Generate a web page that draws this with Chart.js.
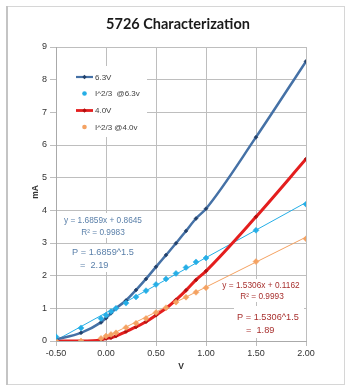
<!DOCTYPE html>
<html lang="en">
<head>
    <meta charset="UTF-8">
    <title>5726 Characterization</title>
    <script src="https://cdn.jsdelivr.net/npm/chart.js"></script>
    <style>
        html, body { margin: 0; padding: 0; background: #fff; }
        #wrap { position: relative; width: 348px; height: 387px; }
    </style>
</head>
<body>
    <div id="wrap">
        <canvas id="tubeChart" width="348" height="387"></canvas>
    </div>

    <script>
        // grid voltage (V) for every measured point
        const gridVolts = [-0.5, -0.25, -0.05, 0, 0.05, 0.1, 0.2, 0.3, 0.4, 0.5, 0.6, 0.7, 0.8, 0.9, 1.0, 1.5, 2.0];

        // plate current (mA)
        const current63 = [0.05, 0.25, 0.57, 0.70, 0.85, 1.00, 1.24, 1.56, 1.90, 2.27, 2.63, 2.99, 3.37, 3.75, 4.05, 6.24, 8.56];
        const power63   = [0.13, 0.40, 0.69, 0.79, 0.90, 1.00, 1.16, 1.35, 1.54, 1.73, 1.90, 2.07, 2.25, 2.42, 2.54, 3.39, 4.19];
        const current40 = [0.00, 0.00, 0.03, 0.08, 0.10, 0.15, 0.29, 0.43, 0.59, 0.79, 1.00, 1.26, 1.55, 1.87, 2.14, 3.80, 5.57];
        const power40   = [0.00, 0.00, 0.08, 0.15, 0.20, 0.25, 0.41, 0.54, 0.69, 0.87, 1.02, 1.19, 1.34, 1.49, 1.63, 2.43, 3.13];

        // linear trendline end points
        const trend63X = [-0.5, 2.0];
        const trend63Y = [0.02, 4.24];
        const trend40X = [-0.08, 2.0];
        const trend40Y = [0.0, 3.18];

        const seriesNames = ["6.3V", "I^2/3  @6.3v", "4.0V", "I^2/3 @4.0v"];
        const seriesColors = ["#4571A6", "#25AEE6", "#E41E1E", "#F4A262"];

        const yTicks = [0, 1, 2, 3, 4, 5, 6, 7, 8, 9];

        const toPoints = (xs, ys) => xs.map((x, i) => ({ x: x, y: ys[i] }));

        const FONT = "'Liberation Sans', Arial, sans-serif";

        // title, axis titles, legend, trendline labels
        const decorPlugin = {
            id: "decor",
            beforeDraw(chart) {
                const c = chart.ctx;
                c.save();
                c.fillStyle = "#fff";
                c.fillRect(0, 0, chart.width, chart.height);
                c.strokeStyle = "#d6d6d6";
                c.lineWidth = 1;
                c.strokeRect(7.5, 6.5, 337, 378);
                c.fillStyle = "#c4c4c4";
                c.fillRect(6, 6, 2, 379);
                c.restore();
            },
            beforeDatasetsDraw(chart) {
                const c = chart.ctx;
                c.save();
                c.fillStyle = "#fff";
                // legend box
                c.fillRect(57, 66, 90, 71);
                // 6.3v fit labels
                c.fillRect(62, 213, 88, 25);
                c.fillRect(62, 244, 86, 28);
                // 4.0v fit labels
                c.fillRect(220, 279, 82, 23);
                c.fillRect(234, 306, 70, 32);
                c.restore();
            },
            afterDatasetsDraw(chart) {
                const c = chart.ctx;
                c.save();

                // title
                c.fillStyle = "#1a1a1a";
                c.font = "bold 14.5px Lato, 'Open Sans', sans-serif";
                c.textAlign = "center";
                c.textBaseline = "middle";
                c.fillText("5726 Characterization", 178, 24);

                // axis titles
                c.font = "bold 8.5px " + FONT;
                c.fillStyle = "#333";
                c.fillText("V", 181, 367);
                c.save();
                c.translate(36, 192);
                c.rotate(-Math.PI / 2);
                c.fillText("mA", 0, 0);
                c.restore();

                // legend
                const rows = [77, 93.5, 110.5, 127];
                c.font = "8px " + FONT;
                c.textAlign = "left";
                rows.forEach((ry, i) => {
                    const col = seriesColors[i];
                    if (i === 0 || i === 2) {
                        c.strokeStyle = col;
                        c.lineWidth = i === 0 ? 2.2 : 2.8;
                        c.beginPath();
                        c.moveTo(76, ry);
                        c.lineTo(93, ry);
                        c.stroke();
                        c.fillStyle = i === 0 ? "#22406A" : "#B01010";
                        c.beginPath();
                        c.moveTo(84.5, ry - 2.2);
                        c.lineTo(86.7, ry);
                        c.lineTo(84.5, ry + 2.2);
                        c.lineTo(82.3, ry);
                        c.fill();
                    } else {
                        c.fillStyle = col;
                        c.beginPath();
                        c.arc(84.5, ry, 2.3, 0, Math.PI * 2);
                        c.fill();
                    }
                    c.fillStyle = "#404040";
                    c.fillText(seriesNames[i], 95, ry + 0.5);
                });

                // fit annotations
                c.textAlign = "center";
                c.fillStyle = "#5B80AA";
                c.font = "8.3px " + FONT;
                c.fillText("y = 1.6859x + 0.8645", 103, 221);
                c.fillText("R\u00B2 = 0.9983", 103, 233);
                c.font = "9.2px " + FONT;
                c.fillText("P = 1.6859^1.5", 103, 252);
                c.textAlign = "left";
                c.fillText("=  2.19", 80, 265);

                c.textAlign = "center";
                c.fillStyle = "#A8302E";
                c.font = "8.3px " + FONT;
                c.fillText("y = 1.5306x + 0.1162", 261, 286);
                c.fillText("R\u00B2 = 0.9993", 262, 297);
                c.font = "9.2px " + FONT;
                c.fillText("P = 1.5306^1.5", 268, 317);
                c.textAlign = "left";
                c.fillText("=  1.89", 246, 330);

                c.restore();
            }
        };

        const ctx = document.getElementById("tubeChart").getContext("2d");

        const tubeChart = new Chart(ctx, {
            type: "scatter",
            data: {
                datasets: [
                    {
                        label: seriesNames[1],
                        data: toPoints(gridVolts, power63),
                        showLine: false,
                        pointStyle: "rectRot",
                        pointRadius: 3,
                        backgroundColor: seriesColors[1],
                        borderColor: seriesColors[1],
                        borderWidth: 0.5
                    },
                    {
                        label: seriesNames[3],
                        data: toPoints(gridVolts, power40),
                        showLine: false,
                        pointStyle: "rectRot",
                        pointRadius: 3,
                        backgroundColor: seriesColors[3],
                        borderColor: seriesColors[3],
                        borderWidth: 0.5
                    },
                    {
                        label: seriesNames[0],
                        data: toPoints(gridVolts, current63),
                        showLine: true,
                        cubicInterpolationMode: "monotone",
                        borderColor: seriesColors[0],
                        borderWidth: 2.5,
                        pointStyle: "rectRot",
                        pointRadius: 2,
                        backgroundColor: "#22406A",
                        pointBorderColor: "#22406A",
                        pointBorderWidth: 0.5
                    },
                    {
                        label: seriesNames[2],
                        data: toPoints(gridVolts, current40),
                        showLine: true,
                        cubicInterpolationMode: "monotone",
                        borderColor: seriesColors[2],
                        borderWidth: 3,
                        pointStyle: "rectRot",
                        pointRadius: 2,
                        backgroundColor: "#B01010",
                        pointBorderColor: "#B01010",
                        pointBorderWidth: 0.5
                    },
                    {
                        label: "trend 6.3v",
                        data: toPoints(trend63X, trend63Y),
                        showLine: true,
                        borderColor: seriesColors[1],
                        borderWidth: 1,
                        pointRadius: 0
                    },
                    {
                        label: "trend 4.0v",
                        data: toPoints(trend40X, trend40Y),
                        showLine: true,
                        borderColor: seriesColors[3],
                        borderWidth: 1,
                        pointRadius: 0
                    }
                ]
            },
            options: {
                responsive: false,
                animation: false,
                events: [],
                layout: { padding: { top: 47, right: 42, left: 0, bottom: 0 } },
                plugins: {
                    legend: { display: false },
                    title: { display: false },
                    tooltip: { enabled: false }
                },
                scales: {
                    x: {
                        type: "linear",
                        min: -0.5,
                        max: 2.0,
                        afterFit: scale => { scale.height = 46; },
                        ticks: {
                            stepSize: 0.5,
                            padding: 2,
                            color: "#333",
                            font: { family: FONT, size: 9 },
                            callback: v => v.toFixed(2)
                        },
                        grid: { color: "#BEBEBE", tickLength: 5, lineWidth: 1 },
                        border: { color: "#AAAAAA" }
                    },
                    y: {
                        type: "linear",
                        min: yTicks[0],
                        max: yTicks[yTicks.length - 1],
                        afterFit: scale => { scale.width = 56; },
                        ticks: {
                            stepSize: 1,
                            padding: 3,
                            color: "#333",
                            font: { family: FONT, size: 9 }
                        },
                        grid: { color: "#BEBEBE", tickLength: 6, lineWidth: 1 },
                        border: { color: "#AAAAAA" }
                    }
                }
            },
            plugins: [decorPlugin]
        });
    </script>
</body>
</html>
